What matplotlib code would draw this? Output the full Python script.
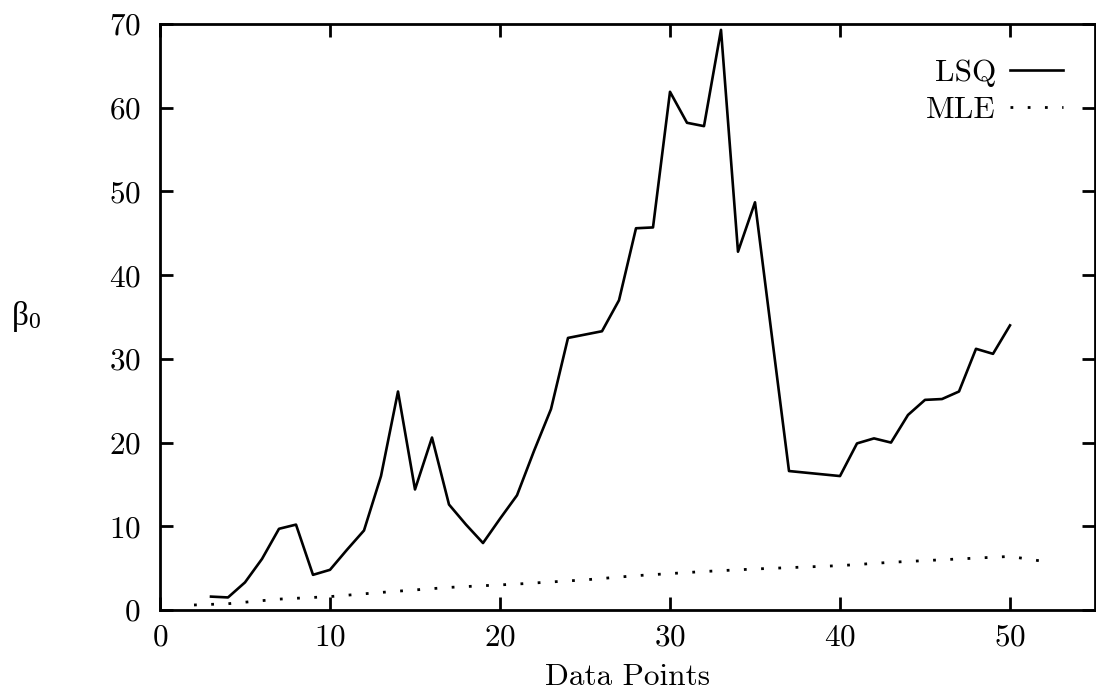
import matplotlib
matplotlib.use('Agg')
import matplotlib.pyplot as plt

# LSQ estimate of beta_0 vs. number of data points
lsq_x = [3, 4, 5, 6, 7, 8, 9, 10, 11, 12, 13, 14, 15, 16, 17, 18, 19, 20,
         21, 22, 23, 24, 25, 26, 27, 28, 29, 30, 31, 32, 33, 34, 35, 36,
         37, 38, 39, 40, 41, 42, 43, 44, 45, 46, 47, 48, 49, 50]
lsq_y = [1.6, 1.5, 3.3, 6.1, 9.7, 10.2, 4.2, 4.8, 7.2, 9.5, 16.0, 26.1,
         14.4, 20.6, 12.6, 10.2, 8.0, 10.9, 13.7, 19.0, 24.0, 32.5, 32.9,
         33.3, 37.0, 45.6, 45.7, 61.9, 58.2, 57.8, 69.3, 42.8, 48.7, 32.6,
         16.6, 16.4, 16.2, 16.0, 19.9, 20.5, 20.0, 23.3, 25.1, 25.2, 26.1,
         31.2, 30.6, 34.0]

# MLE estimate
mle_x = [2, 4, 7, 10, 13, 17, 21, 25, 28, 32, 35, 40, 43, 47, 50, 51, 52]
mle_y = [0.6, 0.75, 1.3, 1.6, 2.1, 2.7, 3.1, 3.6, 4.1, 4.6, 4.9, 5.3, 5.7,
         6.1, 6.4, 6.1, 5.8]

xticks = [0, 10, 20, 30, 40, 50]
yticks = [0, 10, 20, 30, 40, 50, 60, 70]

plt.rcParams['font.family'] = 'cmr10'
plt.rcParams['mathtext.fontset'] = 'cm'
plt.rcParams['axes.formatter.use_mathtext'] = True
plt.rcParams['font.size'] = 22.5

fig = plt.figure(figsize=(10.96, 6.98), dpi=100)
ax = fig.add_axes([160 / 1096, 88 / 698, 935 / 1096, 586 / 698])

ax.plot(lsq_x, lsq_y, color='black', lw=1.9, label='LSQ')
ax.plot(mle_x, mle_y, color='black', lw=2.0, linestyle=(0, (1, 5.2)), label='MLE')

ax.set_xlim(0, 55)
ax.set_ylim(0, 70)
ax.set_xticks(xticks)
ax.set_yticks(yticks)
ax.tick_params(direction='in', length=9.5, width=2.0, top=True, right=True)
ax.tick_params(axis='y', pad=14)
ax.tick_params(axis='x', pad=10)
for s in ax.spines.values():
    s.set_linewidth(2.0)

ax.set_xlabel('Data Points', labelpad=8)
fig.text(12 / 1096, 1 - 316 / 698, 'β', family='Liberation Serif',
         ha='left', va='center', fontsize=24)
fig.text(28 / 1096, 1 - 322 / 698, '0', family='Liberation Serif',
         ha='left', va='center', fontsize=17)

ax.legend(loc='upper right', frameon=False, markerfirst=False, handlelength=1.7,
          handletextpad=0.45, labelspacing=0.3, borderaxespad=0.0,
          borderpad=0.0, bbox_to_anchor=(0.966, 0.941))

fig.savefig('out.png', dpi=100)
